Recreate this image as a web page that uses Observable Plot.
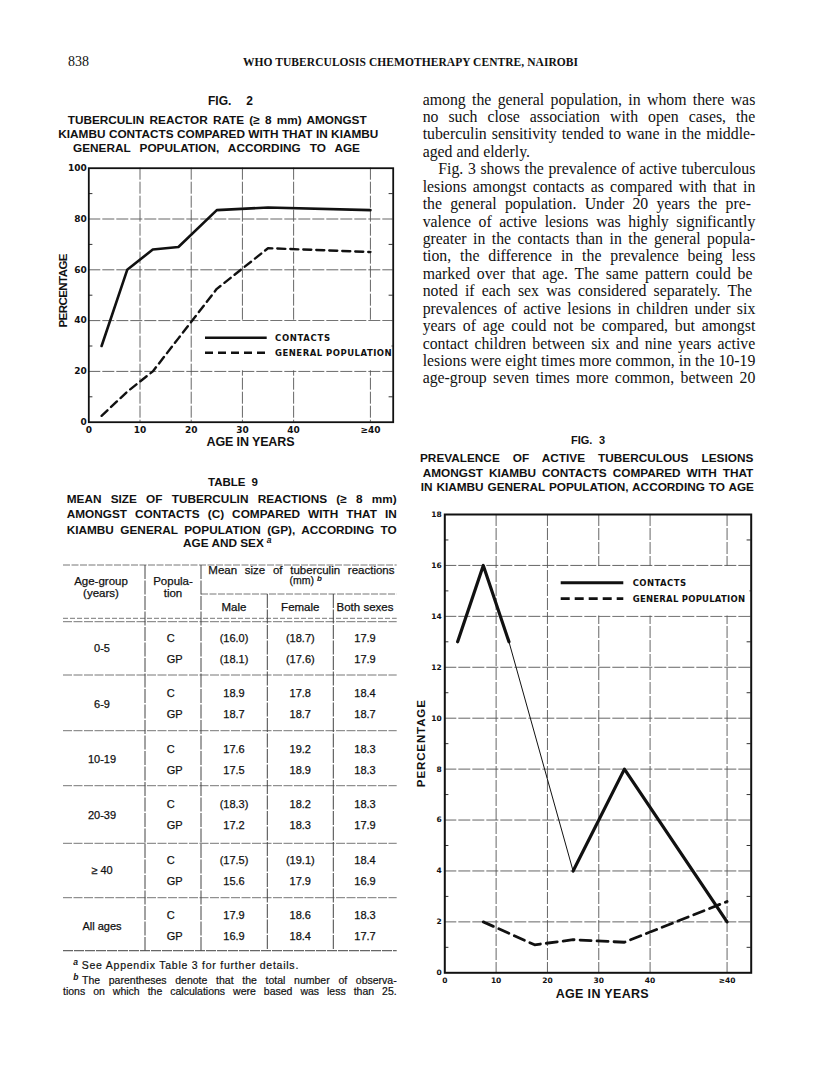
<!DOCTYPE html>
<html><head><meta charset="utf-8">
<script src="https://cdn.jsdelivr.net/npm/d3@7"></script>
<script src="https://cdn.jsdelivr.net/npm/@observablehq/plot@0.6"></script>
<style>
html,body{margin:0;padding:0;background:#fff;}
#page{position:relative;width:816px;height:1080px;overflow:hidden;background:#fff;}
.chart{position:absolute;z-index:1;}
.chart svg{display:block;}
#overlay{position:absolute;left:0;top:0;z-index:2;pointer-events:none;}
</style></head><body><div id="page"></div>
<script>
// ================= DATA =================
// Fig. 2 — tuberculin reactor rate (%) by age (age-group midpoints; "≥40" plotted at 55)
const fig2Age = [2.5, 7.5, 12.5, 17.5, 25, 35, 55];
const fig2Contacts = [30, 60, 68, 69, 83.5, 84.5, 83.5];
const fig2General = [2.5, 12, 20, 33, 52.5, 68.5, 67];
const fig2YTicks = [0, 20, 40, 60, 80, 100];
const fig2GridY = [20, 40, 60, 80];
const fig2MinorY = [10, 30, 50, 70, 90];

// Fig. 3 — prevalence of active tuberculous lesions (%) by age
const fig3ContactsAge = [2.5, 7.5, 12.5, 25, 35, 55];
const fig3Contacts = [13, 16, 13, 4, 8, 2];
const fig3ContactsThinSegment = [false, false, true, false, false];
const fig3GeneralAge = [7.5, 17.5, 25, 35, 55];
const fig3General = [2, 1.1, 1.3, 1.2, 2.8];
const fig3YTicks = [0, 2, 4, 6, 8, 10, 12, 14, 16, 18];
const fig3GridY = [2, 4, 6, 8, 10, 12, 14, 16];
const fig3MinorY = [1, 3, 5, 7, 9, 11, 13, 15, 17];

const xTickValues = [0, 10, 20, 30, 40, 55];
const xTickLabels = ["0", "10", "20", "30", "40", "≥40"];
const xGrid = [10, 20, 30, 40, 55];
const seriesNames = ["CONTACTS", "GENERAL POPULATION"];
const xAxisTitle = "AGE IN YEARS";
const yAxisTitle = "PERCENTAGE";

// Page texts
const pageNumber = "838";
const runningHead = "WHO TUBERCULOSIS CHEMOTHERAPY CENTRE, NAIROBI";
const fig2Label = "FIG. 2";
const fig2Title = ["TUBERCULIN REACTOR RATE (≥ 8 mm) AMONGST", "KIAMBU CONTACTS COMPARED WITH THAT IN KIAMBU", "GENERAL POPULATION, ACCORDING TO AGE"];
const fig3Label = "FIG. 3";
const fig3Title = ["PREVALENCE OF ACTIVE TUBERCULOUS LESIONS", "AMONGST KIAMBU CONTACTS COMPARED WITH THAT", "IN KIAMBU GENERAL POPULATION, ACCORDING TO AGE"];
const bodyLines = [
  "among the general population, in whom there was",
  "no such close association with open cases, the",
  "tuberculin sensitivity tended to wane in the middle-",
  "aged and elderly.",
  "Fig. 3 shows the prevalence of active tuberculous",
  "lesions amongst contacts as compared with that in",
  "the general population.  Under 20 years the pre-",
  "valence of active lesions was highly significantly",
  "greater in the contacts than in the general popula-",
  "tion, the difference in the prevalence being less",
  "marked over that age.  The same pattern could be",
  "noted if each sex was considered separately.  The",
  "prevalences of active lesions in children under six",
  "years of age could not be compared, but amongst",
  "contact children between six and nine years active",
  "lesions were eight times more common, in the 10-19",
  "age-group seven times more common, between 20"
];
const bodyParagraphEnd = [3];
const bodyParagraphStart = [4];

// Table 9
const table9Label = "TABLE 9";
const table9Title = ["MEAN SIZE OF TUBERCULIN REACTIONS (≥ 8 mm)", "AMONGST CONTACTS (C) COMPARED WITH THAT IN", "KIAMBU GENERAL POPULATION (GP), ACCORDING TO", "AGE AND SEX"];
const tableHeadAge = ["Age-group", "(years)"];
const tableHeadPop = ["Popula-", "tion"];
const tableHeadMean = ["Mean size of tuberculin reactions", "(mm)"];
const tableSexes = ["Male", "Female", "Both sexes"];
const tableAgeGroups = ["0-5", "6-9", "10-19", "20-39", "≥ 40", "All ages"];
const tablePopulations = ["C", "GP"];
const maleC    = ["(16.0)", "18.9", "17.6", "(18.3)", "(17.5)", "17.9"];
const maleGP   = ["(18.1)", "18.7", "17.5", "17.2", "15.6", "16.9"];
const femaleC  = ["(18.7)", "17.8", "19.2", "18.2", "(19.1)", "18.6"];
const femaleGP = ["(17.6)", "18.7", "18.9", "18.3", "17.9", "18.4"];
const bothC    = ["17.9", "18.4", "18.3", "18.3", "18.4", "18.3"];
const bothGP   = ["17.9", "18.7", "18.3", "17.9", "16.9", "17.7"];
const footnoteA = "See Appendix Table 3 for further details.";
const footnoteB = ["The parentheses denote that the total number of observa-", "tions on which the calculations were based was less than 25."];

// ================= RENDER =================
const SERIF = "'Liberation Serif','Times New Roman',serif";
const SANS = "'Liberation Sans',Arial,sans-serif";
const TICK = "'DejaVu Sans',sans-serif";
const page = document.getElementById("page");

function fitPlotText(svg, content, len) {
  svg.querySelectorAll("text").forEach(t => {
    if (t.textContent === content) { t.setAttribute("textLength", len); t.setAttribute("lengthAdjust", "spacing"); }
  });
}
const fmtX = d => xTickLabels[xTickValues.indexOf(d)];
const gridStyle = {stroke: "#555", strokeWidth: 0.9, strokeDasharray: "12,2"};
const titleText = {fontFamily: SANS, fontWeight: "bold", fill: "#111", textAnchor: "middle", lineAnchor: "middle"};

// ---- Fig. 2 ----
const f2c = fig2Age.map((a, i) => ({age: a, pct: fig2Contacts[i]}));
const f2g = fig2Age.map((a, i) => ({age: a, pct: fig2General[i]}));
const f2xMax = 59.45;
const fig2 = Plot.plot({
  width: 385, height: 300,
  marginLeft: 68.3, marginRight: 12.3, marginTop: 9.7, marginBottom: 36.3,
  style: {fontFamily: TICK, fontWeight: "bold", fontSize: "9px", color: "#111", background: "transparent", overflow: "visible"},
  x: {domain: [0, f2xMax], ticks: xTickValues, tickFormat: fmtX, tickSize: 0, tickPadding: 4, label: null},
  y: {domain: [0, 100], ticks: fig2YTicks, tickSize: 0, tickPadding: 2, label: null},
  marks: [
    Plot.ruleX(xGrid, gridStyle),
    Plot.ruleY(fig2GridY, gridStyle),
    Plot.ruleY(fig2MinorY, {x1: 0, x2: 0.8, stroke: "#333", strokeWidth: 1}),
    Plot.ruleY(fig2MinorY, {x1: f2xMax - 0.8, x2: f2xMax, stroke: "#333", strokeWidth: 1}),
    Plot.frame({stroke: "#111", strokeWidth: 1.8}),
    Plot.line(f2c, {x: "age", y: "pct", stroke: "#111", strokeWidth: 2.6}),
    Plot.line(f2g, {x: "age", y: "pct", stroke: "#111", strokeWidth: 2.4, strokeDasharray: "8,5"}),
    Plot.text([xAxisTitle], {...titleText, frameAnchor: "bottom", dx: 9.5, dy: 20, fontSize: 12.5}),
    Plot.text([yAxisTitle], {...titleText, frameAnchor: "left", rotate: -90, dx: -25.8, dy: -4.7, fontSize: 11.5})
  ]
});
fitPlotText(fig2, xAxisTitle, 88);
fitPlotText(fig2, yAxisTitle, 74);
const d2 = document.createElement("div"); d2.className = "chart"; d2.style.left = "20px"; d2.style.top = "158px";
d2.appendChild(fig2); page.appendChild(d2);

// ---- Fig. 3 ----
function runs(xs, ys, thinFlags) {
  const out = []; let g = 0;
  for (let i = 0; i < xs.length - 1; i++) {
    if (i > 0 && thinFlags[i] !== thinFlags[i - 1]) g++;
    out.push({age: xs[i], pct: ys[i], run: g, thin: thinFlags[i]});
    out.push({age: xs[i + 1], pct: ys[i + 1], run: g, thin: thinFlags[i]});
  }
  return out;
}
const f3c = runs(fig3ContactsAge, fig3Contacts, fig3ContactsThinSegment);
const f3g = fig3GeneralAge.map((a, i) => ({age: a, pct: fig3General[i]}));
const f3xMax = 59.7;
const fig3 = Plot.plot({
  width: 360, height: 500,
  marginLeft: 39.3, marginRight: 14.3, marginTop: 9, marginBottom: 32.7,
  style: {fontFamily: TICK, fontWeight: "bold", fontSize: "7.5px", color: "#111", background: "transparent", overflow: "visible"},
  x: {domain: [0, f3xMax], ticks: xTickValues, tickFormat: fmtX, tickSize: 0, tickPadding: 5, label: null},
  y: {domain: [0, 18], ticks: fig3YTicks, tickSize: 0, tickPadding: 3, label: null},
  marks: [
    Plot.ruleX(xGrid, gridStyle),
    Plot.ruleY(fig3GridY, gridStyle),
    Plot.ruleY(fig3MinorY, {x1: 0, x2: 0.8, stroke: "#333", strokeWidth: 1}),
    Plot.ruleY(fig3MinorY, {x1: f3xMax - 0.8, x2: f3xMax, stroke: "#333", strokeWidth: 1}),
    Plot.frame({stroke: "#111", strokeWidth: 2}),
    Plot.line(f3c.filter(d => !d.thin), {x: "age", y: "pct", z: "run", stroke: "#111", strokeWidth: 3.2}),
    Plot.line(f3c.filter(d => d.thin), {x: "age", y: "pct", z: "run", stroke: "#111", strokeWidth: 1}),
    Plot.line(f3g, {x: "age", y: "pct", stroke: "#111", strokeWidth: 2.8, strokeDasharray: "11,6"}),
    Plot.text([xAxisTitle], {...titleText, frameAnchor: "bottom", dx: 4.2, dy: 20.7, fontSize: 12.5}),
    Plot.text([yAxisTitle], {...titleText, frameAnchor: "left", rotate: -90, dx: -23.3, dy: 0, fontSize: 11.5})
  ]
});
fitPlotText(fig3, xAxisTitle, 93);
fitPlotText(fig3, yAxisTitle, 87);
const d3c = document.createElement("div"); d3c.className = "chart"; d3c.style.left = "405px"; d3c.style.top = "505px";
d3c.appendChild(fig3); page.appendChild(d3c);

// ---- Overlay (page text, table, legends) ----
const ov = d3.select(page).append("svg").attr("id", "overlay").attr("width", 816).attr("height", 1080);
function txt(s, x, y, o = {}) {
  const t = ov.append("text").attr("x", x).attr("y", y).text(s)
    .attr("font-family", o.family || SANS).attr("font-size", o.size || 11)
    .attr("font-weight", o.weight || "normal").attr("font-style", o.style || "normal")
    .attr("text-anchor", o.anchor || "start").attr("fill", o.fill || "#111");
  if (o.heavy) t.attr("stroke", "#111").attr("stroke-width", o.heavy);
  if (o.len) t.attr("textLength", o.len).attr("lengthAdjust", "spacing");
  if (o.justify) {
    const target = o.justify - x;
    const nat = t.node().getComputedTextLength();
    const n = (s.match(/ /g) || []).length;
    if (nat > target || n === 0) t.attr("textLength", target).attr("lengthAdjust", "spacing");
    else t.attr("word-spacing", (target - nat) / n);
  }
  return t;
}
function rule(x1, y1, x2, y2, o = {}) {
  ov.append("line").attr("x1", x1).attr("y1", y1).attr("x2", x2).attr("y2", y2)
    .attr("stroke", o.stroke || "#666").attr("stroke-width", o.w || 1)
    .attr("stroke-dasharray", o.dash || null);
}

// running head
txt(pageNumber, 68, 66, {family: SERIF, size: 14});
txt(runningHead, 243, 66, {family: SERIF, size: 11.5, weight: "bold", len: 335});

// Fig 2 title
txt(fig2Label, 208, 105, {size: 12, weight: "bold", justify: 253});
const f2tx = [[67.7, 366.7], [58.3, 378.3], [73, 360]];
const f2ty = [124, 138.3, 152];
fig2Title.forEach((s, i) => txt(s, f2tx[i][0], f2ty[i], {size: 11.8, weight: "bold", justify: f2tx[i][1]}));

// body text
bodyLines.forEach((s, i) => {
  const y = 104.5 + 17.43 * i;
  const x0 = bodyParagraphStart.includes(i) ? 438.3 : 422.7;
  if (bodyParagraphEnd.includes(i)) txt(s, x0, y, {family: SERIF, size: 15.8});
  else txt(s, x0, y, {family: SERIF, size: 15.8, justify: 755.3});
});

// Fig 3 title
txt(fig3Label, 571, 444, {size: 11, weight: "bold", justify: 605});
const f3tx = [[420, 753.3], [422.7, 753.3], [420.7, 754]];
const f3ty = [461.7, 476.7, 491.3];
fig3Title.forEach((s, i) => txt(s, f3tx[i][0], f3ty[i], {size: 11.8, weight: "bold", justify: f3tx[i][1]}));

// legends
function legend(bx0, by0, bx1, by1, lx0, lx1, ly, tx, ty, lens, w, dash) {
  ov.append("rect").attr("x", bx0).attr("y", by0).attr("width", bx1 - bx0).attr("height", by1 - by0).attr("fill", "#fff");
  rule(lx0, ly[0], lx1, ly[0], {stroke: "#111", w: w});
  rule(lx0, ly[1], lx1, ly[1], {stroke: "#111", w: w * 0.92, dash: dash});
  seriesNames.forEach((s, i) => txt(s, tx, ty[i], {family: TICK, weight: "bold", size: 8.5, len: lens[i]}));
}
legend(200, 321, 391.5, 370.3, 205, 266.7, [337.7, 352.7], 275, [340.7, 355.7], [55, 116.7], 2.6, "8,5");
legend(556, 566, 749.5, 615.5, 560.7, 623.3, [582.7, 598.7], 632.7, [586, 601.7], [53.3, 112.3], 3, "9,5");

// Table 9
txt(table9Label, 208, 486, {size: 11.5, weight: "bold", justify: 258});
const t9ty = [502.7, 518.3, 534];
table9Title.slice(0, 3).forEach((s, i) => txt(s, 66.7, t9ty[i], {size: 11.8, weight: "bold", justify: 396.7}));
const ageSex = txt(table9Title[3], 183, 547.3, {size: 11.8, weight: "bold"});
txt("a", 183 + ageSex.node().getComputedTextLength() + 3, 543, {size: 8.5, style: "italic", weight: "bold"});

const TL = 63, TR = 396.7;
const colX = [145, 201, 267.3, 333.3];
const ruleC = "#777";
rule(TL, 565, TR, 565, {stroke: ruleC, dash: "7,1.5"});
rule(colX[1], 594, TR, 594, {stroke: ruleC, dash: "7,1.5"});
rule(TL, 618.3, TR, 618.3, {stroke: ruleC, dash: "5,2"});
rule(TL, 621.7, TR, 621.7, {stroke: ruleC, dash: "9,1.5"});
const groupSep = [675, 730.7, 785.7, 843.3, 897.7];
groupSep.forEach(y => rule(TL, y, TR, y, {stroke: ruleC, dash: "9,1.5"}));
rule(TL, 950.7, TR, 950.7, {stroke: "#666", w: 1.2, dash: "10,1"});
rule(colX[0], 565, colX[0], 950.7, {stroke: "#444", w: 1, dash: "14,1.5"});
rule(colX[1], 565, colX[1], 950.7, {stroke: "#444", w: 1, dash: "14,1.5"});
rule(colX[2], 594, colX[2], 950.7, {stroke: "#444", w: 1, dash: "14,1.5"});
rule(colX[3], 594, colX[3], 950.7, {stroke: "#444", w: 1, dash: "14,1.5"});

const HS = 11.5, TS = 11;
const hv = 0.25;
txt(tableHeadAge[0], 101, 585.3, {size: HS, anchor: "middle", heavy: hv});
txt(tableHeadAge[1], 101, 597, {size: HS, anchor: "middle", heavy: hv});
txt(tableHeadPop[0], 173, 585.3, {size: HS, anchor: "middle", heavy: hv});
txt(tableHeadPop[1], 173, 597, {size: HS, anchor: "middle", heavy: hv});
txt(tableHeadMean[0], 208.3, 573.8, {size: HS, justify: 394.5, heavy: hv});
const mm = txt(tableHeadMean[1], 301.7, 584, {size: 10.5, anchor: "middle", heavy: hv});
txt("b", 301.7 + mm.node().getComputedTextLength() / 2 + 3, 581, {size: 8, style: "italic", weight: "bold"});
const colCenters = [234, 300.3, 365];
tableSexes.forEach((s, i) => txt(s, colCenters[i], 610.5, {size: HS, anchor: "middle", heavy: hv}));

const valueCols = [[maleC, maleGP], [femaleC, femaleGP], [bothC, bothGP]];
tableAgeGroups.forEach((g, gi) => {
  const yC = 641.7 + 55.55 * gi, yGP = yC + 20.8;
  txt(g, 102, (yC + yGP) / 2, {size: TS, anchor: "middle", heavy: hv});
  txt(tablePopulations[0], 166.7, yC, {size: TS, heavy: hv});
  txt(tablePopulations[1], 166.7, yGP, {size: TS, heavy: hv});
  valueCols.forEach((pair, ci) => {
    txt(pair[0][gi], colCenters[ci], yC, {size: TS, anchor: "middle", heavy: hv});
    txt(pair[1][gi], colCenters[ci], yGP, {size: TS, anchor: "middle", heavy: hv});
  });
});

// footnotes
txt("a", 73.3, 965, {size: 8.5, style: "italic", weight: "bold"});
txt(footnoteA, 81.7, 968.5, {size: 10.5, len: 216.6, heavy: 0.2});
txt("b", 73.3, 980, {size: 8.5, style: "italic", weight: "bold"});
txt(footnoteB[0], 82, 983.5, {size: 10.5, justify: TR, heavy: 0.2});
txt(footnoteB[1], 63, 994.5, {size: 10.5, justify: TR, heavy: 0.2});
</script></body></html>
